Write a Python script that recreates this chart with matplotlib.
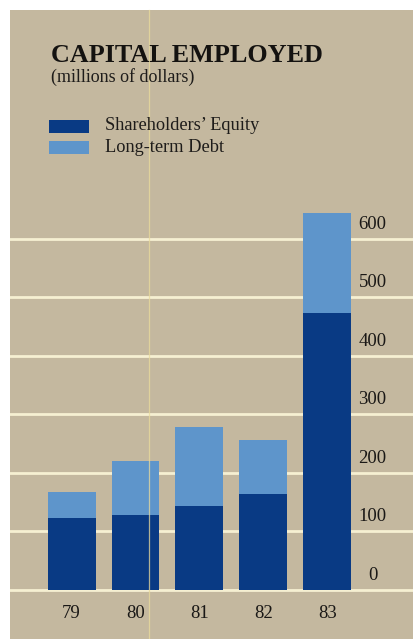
import matplotlib.pyplot as plt
from matplotlib.patches import Rectangle

# ------------------------------------------------------
# Data (millions of dollars)
# ------------------------------------------------------
years = ["79", "80", "81", "82", "83"]
equity = [123, 127, 142, 163, 473]
debt = [44, 93, 135, 92, 170]
ticks = [0, 100, 200, 300, 400, 500, 600]

# ------------------------------------------------------
# Style
# ------------------------------------------------------
W, H = 414, 639
BG = "#c4b89f"
DARK = "#093a84"
LIGHT = "#5e95cb"
GRID = "#f6f0d2"
SERIF = ["Liberation Serif", "DejaVu Serif"]

fig = plt.figure(figsize=(W / 100, H / 100), dpi=100, facecolor="white")

# tan card with a thin white margin on top and left
fig.patches.append(Rectangle((10 / W, 0), 1, 1 - 10 / H, transform=fig.transFigure,
                             facecolor=BG, edgecolor="none", zorder=-5))

ax = fig.add_axes([10 / W, 0, 404 / W, 1])
ax.set_zorder(1)
ax.set_facecolor("none")
px_x = 64.0      # pixels per bar slot
px_y = 0.585     # pixels per million
ax.set_xlim(-(71.7 - 10) / px_x, 4 + (414 - 327) / px_x)
ax.set_ylim(-(H - 589.5) / px_y, 589.5 / px_y)
ax.axis("off")

for t in ticks:
    ax.axhline(t, color=GRID, lw=2.0, zorder=1)
    ax.text(4.71, t + 24, str(t), ha="center", va="center",
            fontsize=13.5, family=SERIF, color="#1a1816", zorder=3)

x = list(range(len(years)))
ax.bar(x, equity, width=0.75, color=DARK, zorder=2)
ax.bar(x, debt, bottom=equity, width=0.75, color=LIGHT, zorder=2)

for i, yr in enumerate(years):
    ax.text(i, -(614 - 589.5) / px_y, yr, ha="center", va="center",
            fontsize=13.5, family=SERIF, color="#1a1816")

# faint vertical streak across the card
ax.axvline((149 - 10) / px_x + ax.get_xlim()[0], ymax=1 - 10 / H, color="#eadb9c",
           lw=0.9, alpha=0.75, zorder=4)

# ------------------------------------------------------
# Title and legend
# ------------------------------------------------------
fig.text(51 / W, 1 - 62 / H, "CAPITAL EMPLOYED", fontsize=18.8, weight="bold",
         family=SERIF, color="#141210", va="baseline")
fig.text(51 / W, 1 - 77 / H, "(millions of dollars)", fontsize=13,
         family=SERIF, color="#1e1c1a", va="center")

legend_items = [("Shareholders\u2019 Equity", DARK, 126), ("Long-term Debt", LIGHT, 147)]
for label, color, yc in legend_items:
    fig.patches.append(Rectangle((49 / W, 1 - (yc + 6.5) / H), 40 / W, 13 / H,
                                 transform=fig.transFigure, facecolor=color,
                                 edgecolor="none", zorder=2))
    fig.text(105 / W, 1 - yc / H, label, fontsize=13.2, family=SERIF,
             color="#1e1c1a", va="center")

fig.savefig("out.png", dpi=100, facecolor=fig.get_facecolor())
